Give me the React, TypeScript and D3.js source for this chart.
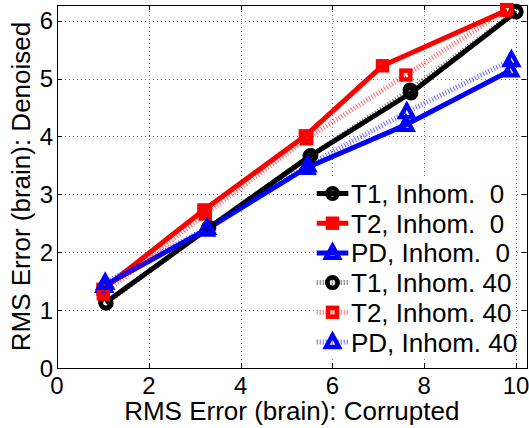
import React from "react";
import * as d3 from "d3";

// series values
const seriesLabels = [
  "T1, Inhom.  0",
  "T2, Inhom.  0",
  "PD, Inhom.  0",
  "T1, Inhom. 40",
  "T2, Inhom. 40",
  "PD, Inhom. 40",
];
const t1x0 = [1.06, 3.29, 5.51, 7.71, 10.0];
const t1y0 = [1.13, 2.41, 3.66, 4.75, 6.15];
const t2x0 = [1.0, 3.2, 5.41, 7.09, 9.8];
const t2y0 = [1.36, 2.73, 4.01, 5.22, 6.18];
const pdx0 = [1.03, 3.25, 5.44, 7.6, 9.88];
const pdy0 = [1.42, 2.39, 3.46, 4.2, 5.14];
const t1x40 = [1.07, 3.31, 5.53, 7.69, 10.0];
const t1y40 = [1.12, 2.43, 3.67, 4.8, 6.16];
const t2x40 = [1.01, 3.23, 5.44, 7.6, 9.8];
const t2y40 = [1.28, 2.66, 3.96, 5.06, 6.19];
const pdx40 = [1.05, 3.27, 5.46, 7.62, 9.9];
const pdy40 = [1.47, 2.42, 3.5, 4.42, 5.32];

const xTicks = [0, 2, 4, 6, 8, 10];
const yTicks = [0, 1, 2, 3, 4, 5, 6];

const FONT = "'Liberation Sans', Arial, Helvetica, sans-serif";

type Series = {
  name: string;
  xs: number[];
  ys: number[];
  color: string;
  marker: "circle" | "square" | "triangle";
  dotted: boolean;
};

const series: Series[] = [
  { name: seriesLabels[0], xs: t1x0, ys: t1y0, color: "#000", marker: "circle", dotted: false },
  { name: seriesLabels[1], xs: t2x0, ys: t2y0, color: "#f00", marker: "square", dotted: false },
  { name: seriesLabels[2], xs: pdx0, ys: pdy0, color: "#00f", marker: "triangle", dotted: false },
  { name: seriesLabels[3], xs: t1x40, ys: t1y40, color: "#000", marker: "circle", dotted: true },
  { name: seriesLabels[4], xs: t2x40, ys: t2y40, color: "#f00", marker: "square", dotted: true },
  { name: seriesLabels[5], xs: pdx40, ys: pdy40, color: "#00f", marker: "triangle", dotted: true },
];

function Marker({ kind, cx, cy, color }: { kind: string; cx: number; cy: number; color: string }) {
  if (kind === "circle") {
    return <circle cx={cx} cy={cy} r={5.2} fill="none" stroke={color} strokeWidth={4.6} />;
  }
  if (kind === "square") {
    return (
      <rect x={cx - 4.4} y={cy - 4.4} width={8.8} height={8.8} fill="none" stroke={color} strokeWidth={4.6} />
    );
  }
  const p = `M${cx},${cy - 7} L${cx + 6.5},${cy + 5} L${cx - 6.5},${cy + 5} Z`;
  return <path d={p} fill="none" stroke={color} strokeWidth={4.4} strokeLinejoin="miter" />;
}

export default function App() {
  const width = 529;
  const height = 428;
  const left = 57;
  const right = 526.6;
  const top = 5;
  const bottom = 368;

  const x = d3.scaleLinear().domain([0, 10.23]).range([left, right]);
  const y = d3.scaleLinear().domain([0, 6.27]).range([bottom, top]);

  const line = d3
    .line<[number, number]>()
    .x((d) => x(d[0]))
    .y((d) => y(d[1]));

  const crisp = (v: number) => Math.round(v) + 0.5;

  // legend
  const legX1 = 316.7;
  const legX2 = 348.3;
  const legTextX = 351;
  const legRow0 = 193.5;
  const legStep = 29.7;

  return (
    <svg
      width={width}
      height={height}
      style={{ position: "absolute", left: 0, top: 0, background: "#fff" }}
      fontFamily={FONT}
    >
      {/* grid */}
      <g stroke="#777" strokeWidth={1} strokeDasharray="1,3" fill="none">
        {xTicks.slice(1).map((t) => (
          <line key={"gx" + t} x1={crisp(x(t))} x2={crisp(x(t))} y1={bottom} y2={top} />
        ))}
        {yTicks.slice(1).map((t) => (
          <line key={"gy" + t} x1={left} x2={right} y1={crisp(y(t))} y2={crisp(y(t))} />
        ))}
      </g>

      {/* ticks, inside on all sides */}
      <g stroke="#000" strokeWidth={1}>
        {xTicks.map((t) => (
          <g key={"tx" + t}>
            <line x1={crisp(x(t))} x2={crisp(x(t))} y1={bottom} y2={bottom - 5} />
            <line x1={crisp(x(t))} x2={crisp(x(t))} y1={top} y2={top + 5} />
          </g>
        ))}
        {yTicks.map((t) => (
          <g key={"ty" + t}>
            <line x1={left} x2={left + 5} y1={crisp(y(t))} y2={crisp(y(t))} />
            <line x1={right} x2={right - 5} y1={crisp(y(t))} y2={crisp(y(t))} />
          </g>
        ))}
      </g>

      {/* axes box */}
      <rect
        x={crisp(left)}
        y={crisp(top)}
        width={Math.round(right) - Math.round(left)}
        height={Math.round(bottom) - Math.round(top)}
        fill="none"
        stroke="#000"
        strokeWidth={1}
      />

      {/* data lines */}
      {series.map((s) => {
        const pts = s.xs.map((v, i) => [v, s.ys[i]] as [number, number]);
        return (
          <path
            key={"l" + s.name}
            d={line(pts) || ""}
            fill="none"
            stroke={s.color}
            strokeWidth={5}
            strokeOpacity={s.dotted ? 0.6 : 1}
            strokeDasharray={s.dotted ? "1,2" : undefined}
            strokeLinejoin="round"
          />
        );
      })}

      {/* markers */}
      {series.map((s) => (
        <g key={"m" + s.name}>
          {s.xs.map((v, i) => (
            <Marker key={i} kind={s.marker} cx={x(v)} cy={y(s.ys[i])} color={s.color} />
          ))}
        </g>
      ))}

      {/* legend */}
      <rect x={314} y={177} width={200} height={181} fill="#fff" />
      {series.map((s, i) => {
        const cy = legRow0 + i * legStep;
        return (
          <g key={"lg" + s.name}>
            <line
              x1={legX1}
              x2={legX2}
              y1={cy}
              y2={cy}
              stroke={s.color}
              strokeWidth={5}
              strokeOpacity={s.dotted ? 0.6 : 1}
              strokeDasharray={s.dotted ? "1,2" : undefined}
            />
            <Marker kind={s.marker} cx={(legX1 + legX2) / 2} cy={cy} color={s.color} />
            <text x={legTextX} y={cy + 9.5} fontSize={26} fill="#000" style={{ whiteSpace: "pre" }}>
              {s.name}
            </text>
          </g>
        );
      })}

      {/* tick labels */}
      <g fontSize={24} fill="#000">
        {xTicks.map((t) => (
          <text key={"xl" + t} x={x(t)} y={394} textAnchor="middle">
            {t}
          </text>
        ))}
        {yTicks.map((t) => (
          <text key={"yl" + t} x={53} y={y(t) + 8.6} textAnchor="end">
            {t}
          </text>
        ))}
      </g>

      {/* axis titles */}
      <text x={(left + right) / 2} y={420} textAnchor="middle" fontSize={26} fill="#000">
        RMS Error (brain): Corrupted
      </text>
      <text
        transform={`translate(30,${(top + bottom) / 2}) rotate(-90)`}
        textAnchor="middle"
        fontSize={26}
        fill="#000"
      >
        RMS Error (brain): Denoised
      </text>
    </svg>
  );
}
